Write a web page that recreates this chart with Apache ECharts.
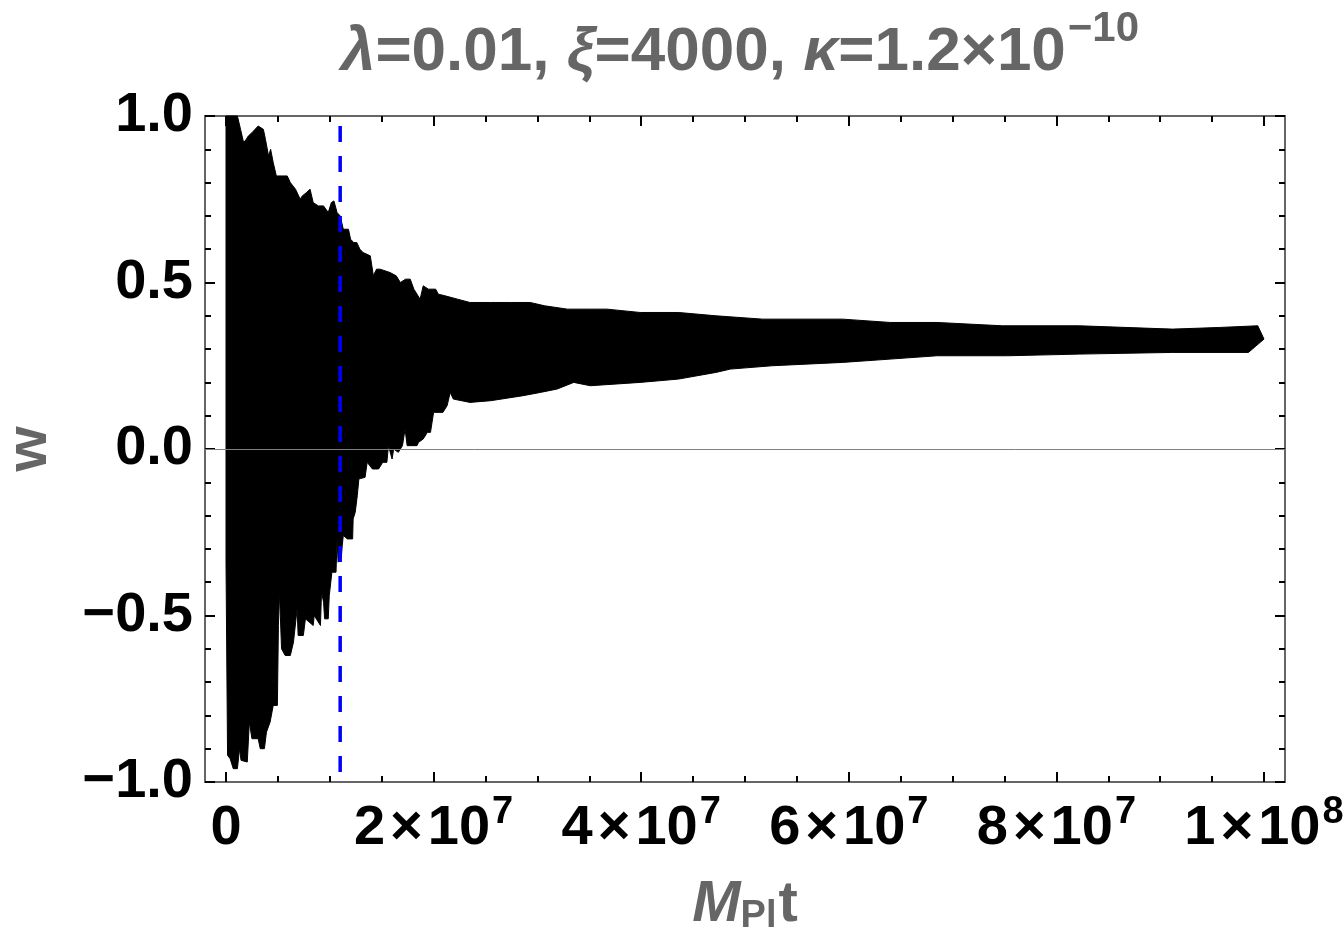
<!DOCTYPE html>
<html><head><meta charset="utf-8">
<script src="https://cdn.jsdelivr.net/npm/echarts@6/dist/echarts.min.js"></script>
<style>html,body{margin:0;padding:0;background:#fff}#c{width:1344px;height:942px}</style>
</head><body><div id="c"></div>
<script>
// ---- data (t in units of 10^6) ----
const tUpperM = [0,1.1,1.4,1.7,1.95,2.15,2.5,3.1,3.6,3.8,4.1,4.3,4.55,4.85,5.3,5.9,6.2,6.7,7.15,7.35,7.75,8.1,8.4,8.9,9.4,9.85,10.15,10.4,10.7,11.0,11.3,11.8,12.0,12.3,12.6,12.9,13.2,13.9,14.2,14.5,14.85,15.8,16.4,16.8,17.3,17.75,18.1,18.7,19.0,19.5,20.2,20.45,21.1,22.3,23.5,25.5,27.4,29.3,30.7,32.9,35.1,36.7,39.9,43.6,47.2,51.7,59.4,64.0,68.5,74.8,82.2,91.2,95.7,99.4,100];
const wUpper = [1.0,1.0,0.96,0.92,0.93,0.94,0.95,0.97,0.96,0.93,0.88,0.90,0.86,0.82,0.82,0.82,0.80,0.78,0.75,0.76,0.77,0.78,0.74,0.73,0.73,0.71,0.74,0.745,0.71,0.70,0.66,0.66,0.63,0.62,0.62,0.60,0.59,0.58,0.52,0.54,0.54,0.53,0.52,0.50,0.51,0.51,0.48,0.45,0.49,0.48,0.48,0.465,0.46,0.45,0.44,0.44,0.44,0.44,0.43,0.42,0.42,0.42,0.41,0.41,0.40,0.39,0.39,0.38,0.38,0.37,0.37,0.36,0.365,0.37,0.33];
const tLowerM = [0,0.15,0.4,0.7,1.1,1.3,1.45,2.05,2.25,2.5,3.1,3.3,3.7,3.9,4.25,4.55,4.95,5.05,5.15,5.35,5.7,6.2,6.5,6.85,6.95,7.45,7.65,8.4,8.5,9.1,9.2,9.4,9.5,9.85,9.95,10.2,10.6,10.7,10.8,11.1,11.2,11.3,11.7,12.2,12.25,12.45,12.65,12.8,13.4,13.6,14.1,14.7,15.1,15.5,15.65,16.0,16.15,16.6,17.0,17.25,17.45,18.4,18.55,19.0,19.4,19.7,20.0,20.9,21.3,21.6,21.9,23.5,25.5,28.6,30.3,31.9,33.5,35.1,39.9,43.6,47.2,48.6,52.6,59.4,64.0,68.5,75.3,82.2,91.2,98.5,100];
const wLower = [-0.34,-0.92,-0.93,-0.96,-0.96,-0.90,-0.935,-0.94,-0.82,-0.87,-0.87,-0.90,-0.90,-0.85,-0.82,-0.77,-0.77,-0.53,-0.43,-0.60,-0.62,-0.62,-0.58,-0.48,-0.56,-0.56,-0.51,-0.53,-0.50,-0.53,-0.43,-0.46,-0.51,-0.51,-0.44,-0.37,-0.37,-0.27,-0.34,-0.33,-0.29,-0.26,-0.27,-0.27,-0.21,-0.19,-0.14,-0.09,-0.085,-0.04,-0.06,-0.06,-0.04,-0.04,0.01,-0.03,0.0,-0.01,0.01,0.06,0.01,0.01,0.02,0.03,0.05,0.05,0.11,0.11,0.13,0.17,0.15,0.14,0.145,0.16,0.17,0.18,0.20,0.19,0.20,0.21,0.23,0.24,0.25,0.26,0.27,0.28,0.28,0.285,0.29,0.29,0.33];
const markerT = [1.1e7, 1.1e7];
const markerW = [0.97, -0.97];
const xTickValues = [0, 2e7, 4e7, 6e7, 8e7, 1e8];
const xTickLabels = ['0', '2×10^7', '4×10^7', '6×10^7', '8×10^7', '1×10^8'];
const yTickValues = [-1, -0.5, 0, 0.5, 1];
const yTickLabels = ['−1.0', '−0.5', '0.0', '0.5', '1.0'];

const FONT = 'Liberation Sans, Arial, sans-serif';
const GRAY = '#666666';

function xLabel(v) {
  const i = xTickValues.findIndex(t => Math.abs(t - v) < 1);
  if (i < 0) return '';
  const s = xTickLabels[i];
  if (s.indexOf('^') < 0) return '{n|' + s + '}';
  const [base, exp] = s.split('^');
  const [a, b] = base.split('×');
  return '{n|' + a + '}{x|×}{n|' + b + '}{s|' + exp + '}';
}
function yLabel(v) {
  const i = yTickValues.findIndex(t => Math.abs(t - v) < 1e-9);
  return i < 0 ? '' : yTickLabels[i];
}

const chart = echarts.init(document.getElementById('c'), null, {renderer: 'canvas'});
const tickStyle = {color: '#000', width: 2};
const option = {
  backgroundColor: '#fff',
  animation: false,
  title: {
    left: 740, top: 8, padding: 0, textAlign: 'center',
    text: '{g|λ}{n|=0.01, }{g|ξ}{n|=4000, }{g|κ}{n|=1.2×10}{s|−10}',
    textStyle: {
      fontFamily: FONT, fontSize: 62, fontWeight: 'bold', color: GRAY,
      rich: {
        n: {fontFamily: FONT, fontSize: 62, fontWeight: 'bold', color: GRAY, lineHeight: 80},
        g: {fontFamily: FONT, fontSize: 62, fontWeight: 'bold', fontStyle: 'italic', color: GRAY, lineHeight: 80},
        s: {fontFamily: FONT, fontSize: 42, fontWeight: 'bold', color: GRAY, padding: [0, 0, 48, 2]}
      }
    }
  },
  grid: [
    {left: 205, right: 59, top: 116, bottom: 160, show: true, borderColor: GRAY, borderWidth: 2, backgroundColor: 'transparent', outerBoundsMode: 'none', containLabel: false},
    {left: 226, right: 80, top: 116, bottom: 160, outerBoundsMode: 'none', containLabel: false}
  ],
  xAxis: [
    {gridIndex: 0, type: 'value', min: -2e6, max: 1.02e8, z: 4,
     axisLine: {show: true, onZero: true, lineStyle: {color: '#808080', width: 1}},
     axisTick: {show: false}, axisLabel: {show: false}, splitLine: {show: false}},
    {gridIndex: 1, type: 'value', position: 'bottom', min: 0, max: 1e8, interval: 2e7,
     axisLine: {show: false, onZero: false},
     axisTick: {show: true, inside: true, length: 10, lineStyle: tickStyle},
     minorTick: {show: true, splitNumber: 4, length: 6, lineStyle: tickStyle},
     splitLine: {show: false},
     axisLabel: {
       margin: 12, formatter: xLabel, fontFamily: FONT, fontSize: 56, fontWeight: 'bold', color: '#000',
       rich: {
         n: {fontFamily: FONT, fontSize: 56, fontWeight: 'bold', color: '#000', lineHeight: 70},
         x: {fontFamily: FONT, fontSize: 56, fontWeight: 'bold', color: '#000', lineHeight: 70, padding: [0, 5, 0, 5]},
         s: {fontFamily: FONT, fontSize: 38, fontWeight: 'bold', color: '#000', padding: [0, 0, 32, 2]}
       }
     },
     name: '{m|M}{p|Pl}{n|t}', nameLocation: 'middle', nameGap: 88,
     nameTextStyle: {
       fontFamily: FONT, fontSize: 56, fontWeight: 'bold', color: GRAY,
       rich: {
         m: {fontFamily: FONT, fontSize: 58, fontWeight: 'bold', fontStyle: 'italic', color: GRAY, lineHeight: 70},
         p: {fontFamily: FONT, fontSize: 38, fontWeight: 'bold', color: GRAY, padding: [24, 2, 0, 0]},
         n: {fontFamily: FONT, fontSize: 58, fontWeight: 'bold', color: GRAY, lineHeight: 70}
       }
     }},
    {gridIndex: 1, type: 'value', position: 'top', min: 0, max: 1e8, interval: 2e7,
     axisLine: {show: false, onZero: false},
     axisTick: {show: true, inside: true, length: 10, lineStyle: tickStyle},
     minorTick: {show: true, splitNumber: 4, length: 6, lineStyle: tickStyle},
     splitLine: {show: false}, axisLabel: {show: false}}
  ],
  yAxis: [
    {gridIndex: 0, type: 'value', min: -1, max: 1, show: false},
    {gridIndex: 1, type: 'value', position: 'left', offset: 21, min: -1, max: 1, interval: 0.5,
     axisLine: {show: false, onZero: false},
     axisTick: {show: true, inside: true, length: 10, lineStyle: tickStyle},
     minorTick: {show: true, splitNumber: 5, length: 6, lineStyle: tickStyle},
     splitLine: {show: false},
     axisLabel: {margin: 12, formatter: yLabel, fontFamily: FONT, fontSize: 56, fontWeight: 'bold', color: '#000'},
     name: 'w', nameLocation: 'middle', nameGap: 146,
     nameTextStyle: {fontFamily: FONT, fontSize: 58, fontWeight: 'bold', color: GRAY}},
    {gridIndex: 1, type: 'value', position: 'right', offset: 21, min: -1, max: 1, interval: 0.5,
     axisLine: {show: false, onZero: false},
     axisTick: {show: true, inside: true, length: 10, lineStyle: tickStyle},
     minorTick: {show: true, splitNumber: 5, length: 6, lineStyle: tickStyle},
     splitLine: {show: false}, axisLabel: {show: false}}
  ],
  series: [
    {
      type: 'custom', name: 'w', xAxisIndex: 1, yAxisIndex: 1, z: 2,
      data: [[0, 0]],
      renderItem: function (params, api) {
        const pts = [];
        for (let i = 0; i < tUpperM.length; i++) pts.push(api.coord([tUpperM[i] * 1e6, wUpper[i]]));
        for (let i = tLowerM.length - 1; i >= 0; i--) pts.push(api.coord([tLowerM[i] * 1e6, wLower[i]]));
        return {type: 'polygon', shape: {points: pts}, style: {fill: '#000', stroke: '#000', lineWidth: 1}};
      }
    },
    {
      type: 'line', name: 'marker', xAxisIndex: 1, yAxisIndex: 1, z: 6,
      data: markerT.map((t, i) => [t, markerW[i]]),
      symbol: 'none', silent: true,
      lineStyle: {color: '#0000ff', width: 3.5, type: [16, 14]}
    }
  ]
};
chart.setOption(option);
</script>
</body></html>
